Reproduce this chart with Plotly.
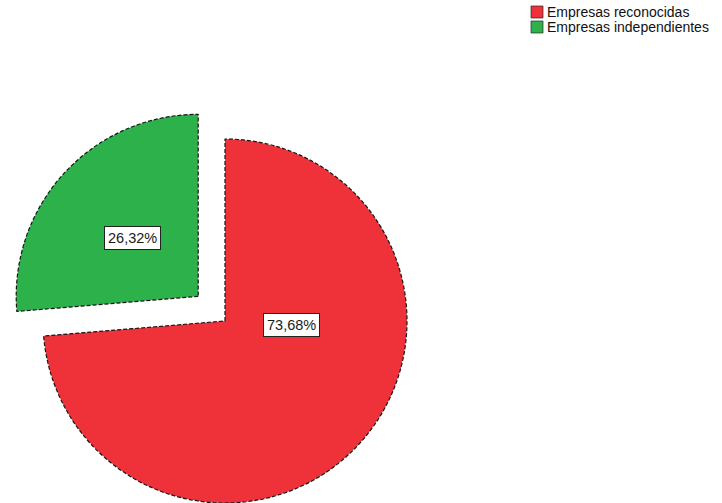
import math
import plotly.graph_objects as go

# Data
categories = ["Empresas reconocidas", "Empresas independientes"]
percentages = [73.68, 26.32]
slice_colors = ["#EF3239", "#2DB24B"]
exploded = [False, True]
pull_fraction = 0.20

# Canvas / geometry (pixels)
W, H = 722, 503
radius = 182
pie_center = (225, 321)          # centre of the un-exploded pie
label_pos = [(291, 325), (132, 238)]
legend_x, legend_y0, legend_dy = 531, 12, 15

TRANSPARENT = "rgba(0,0,0,0)"
EDGE = "#151515"


def domain_for(cx, cy, r):
    return dict(x=[(cx - r) / W, (cx + r) / W],
                y=[(H - (cy + r)) / H, (H - (cy - r)) / H])


def slice_offset(i):
    """Pixel offset of an exploded slice along its bisector (clockwise from 12 o'clock)."""
    total = sum(percentages)
    start = sum(percentages[:i]) / total * 360.0
    mid = math.radians(start + percentages[i] / total * 180.0)
    d = pull_fraction * radius
    return d * math.sin(mid), -d * math.cos(mid)


fig = go.Figure()

# One pie per slice so the exploded wedge keeps the full radius;
# the other wedge in each trace is left transparent.
for i, (cat, col) in enumerate(zip(categories, slice_colors)):
    dx, dy = slice_offset(i) if exploded[i] else (0.0, 0.0)
    cx, cy = pie_center[0] + dx, pie_center[1] + dy
    fills = [col if j == i else TRANSPARENT for j in range(len(categories))]
    lines = [EDGE if j == i else TRANSPARENT for j in range(len(categories))]
    fig.add_trace(go.Pie(
        labels=categories,
        values=percentages,
        sort=False,
        direction="clockwise",
        rotation=0,
        marker=dict(colors=fills, line=dict(color=lines, width=1.2)),
        textinfo="none",
        hoverinfo="skip",
        showlegend=False,
        domain=domain_for(cx, cy, radius),
    ))

# Percentage labels in boxed white tags
annotations = []
for v, (px, py) in zip(percentages, label_pos):
    annotations.append(dict(
        x=px / W, y=1 - py / H, xref="paper", yref="paper",
        text=f"{v:.2f}%".replace(".", ","),
        showarrow=False, xanchor="center", yanchor="middle",
        font=dict(family="Liberation Sans, Arial, sans-serif", size=14.5, color="#1a1a1a"),
        bgcolor="white", bordercolor="#222", borderwidth=1, borderpad=3,
    ))

# Legend: coloured swatch + category name
shapes = []
for k, (cat, col) in enumerate(zip(categories, slice_colors)):
    yc = legend_y0 + k * legend_dy
    shapes.append(dict(
        type="rect", xref="paper", yref="paper",
        x0=legend_x / W, x1=(legend_x + 12) / W,
        y0=1 - (yc + 6) / H, y1=1 - (yc - 6) / H,
        fillcolor=col, line=dict(color="rgba(40,40,40,0.7)", width=1),
    ))
    annotations.append(dict(
        x=(legend_x + 14) / W, y=1 - yc / H, xref="paper", yref="paper",
        text=cat, showarrow=False, xanchor="left", yanchor="middle",
        font=dict(family="Liberation Sans, Arial, sans-serif", size=14, color="#111"),
    ))

fig.update_layout(
    width=W, height=H,
    margin=dict(l=0, r=0, t=0, b=0),
    paper_bgcolor="white", plot_bgcolor="white",
    annotations=annotations, shapes=shapes,
    showlegend=False,
)

# Dashed outline on the wedges
dash_js = """
var gd = document.getElementById('{plot_id}');
function dashSlices() {
  gd.querySelectorAll('g.slice path.surface').forEach(function (p) {
    p.style.strokeDasharray = '4,2';
  });
}
dashSlices();
gd.on('plotly_afterplot', dashSlices);
"""

fig.write_html("out.html", post_script=dash_js, config={"displayModeBar": False})
